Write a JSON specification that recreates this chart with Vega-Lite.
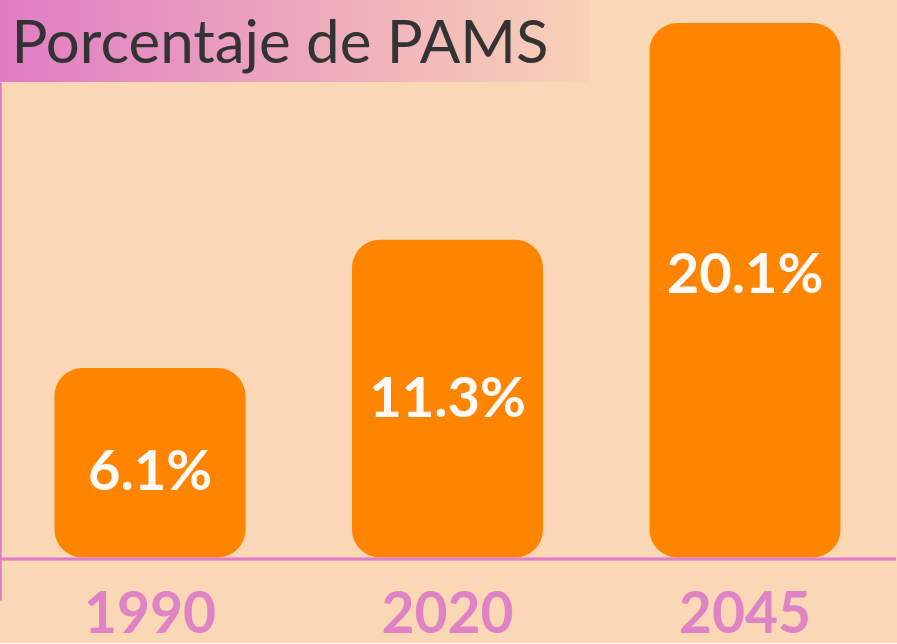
{
  "$schema": "https://vega.github.io/schema/vega-lite/v6.json",
  "background": "#FAD7B5",
  "padding": {"left": -3, "top": 0, "right": 0, "bottom": 0},
  "spacing": 0,
  "bounds": "flush",
  "config": {"view": {"stroke": null}, "axis": {"grid": false}},
  "datasets": {
    "heading": [{"text": "Porcentaje de PAMS"}],
    "bars": [
      {"year": "1990", "value": 6.1, "label": "6.1%"},
      {"year": "2020", "value": 11.3, "label": "11.3%"},
      {"year": "2045", "value": 20.1, "label": "20.1%"}
    ]
  },
  "vconcat": [
    {
      "width": 590,
      "height": 82,
      "view": {
        "stroke": null,
        "fill": {
          "gradient": "linear", "x1": 0, "y1": 0, "x2": 1, "y2": 0,
          "stops": [{"offset": 0, "color": "#E07CC4"}, {"offset": 1, "color": "#F9D2B6"}]
        }
      },
      "data": {"name": "heading"},
      "mark": {"type": "text", "font": "Lato", "fontSize": 60, "fill": "#333333", "align": "center", "baseline": "alphabetic", "dx": -14, "dy": 22},
      "encoding": {"text": {"field": "text", "type": "nominal"}}
    },
    {
      "width": 897,
      "height": 518,
      "data": {"name": "bars"},
      "layer": [
        {
          "mark": {"type": "bar", "color": "#FF8400", "cornerRadius": 28},
          "encoding": {
            "x": {
              "field": "year", "type": "nominal", "sort": null,
              "scale": {"paddingInner": 0.358, "paddingOuter": 0.1866},
              "axis": {"title": null, "domain": false, "ticks": false, "tickSize": 0, "labelAngle": 0, "labelFont": "Lato", "labelFontSize": 57, "labelFontWeight": "bold", "labelColor": "#E083C5", "labelBaseline": "alphabetic", "labelPadding": 32}
            },
            "y": {
              "field": "value", "type": "quantitative",
              "scale": {"domain": [-3.316, 17.707], "nice": false, "zero": false},
              "axis": {"title": null, "labels": false, "ticks": false, "grid": false, "domain": true, "domainColor": "#E07FC5", "domainWidth": 2.5, "offset": -1}
            },
            "y2": {"datum": -1.591}
          }
        },
        {
          "mark": {"type": "rule", "color": "#E07FC5", "strokeWidth": 2.5},
          "encoding": {
            "y": {"datum": -1.651, "type": "quantitative", "scale": {"domain": [-3.316, 17.707], "nice": false, "zero": false}, "axis": null}
          }
        },
        {
          "mark": {"type": "text", "font": "Lato", "fontSize": 56, "fontWeight": "bold", "color": "#FFFAFA", "align": "center", "baseline": "alphabetic"},
          "encoding": {
            "x": {"field": "year", "type": "nominal", "sort": null},
            "y": {"field": "value", "type": "quantitative", "scale": {"domain": [-1.72, 35.1], "nice": false, "zero": false}, "axis": null},
            "text": {"field": "label", "type": "nominal"}
          }
        }
      ],
      "resolve": {"scale": {"y": "independent"}}
    }
  ]
}
